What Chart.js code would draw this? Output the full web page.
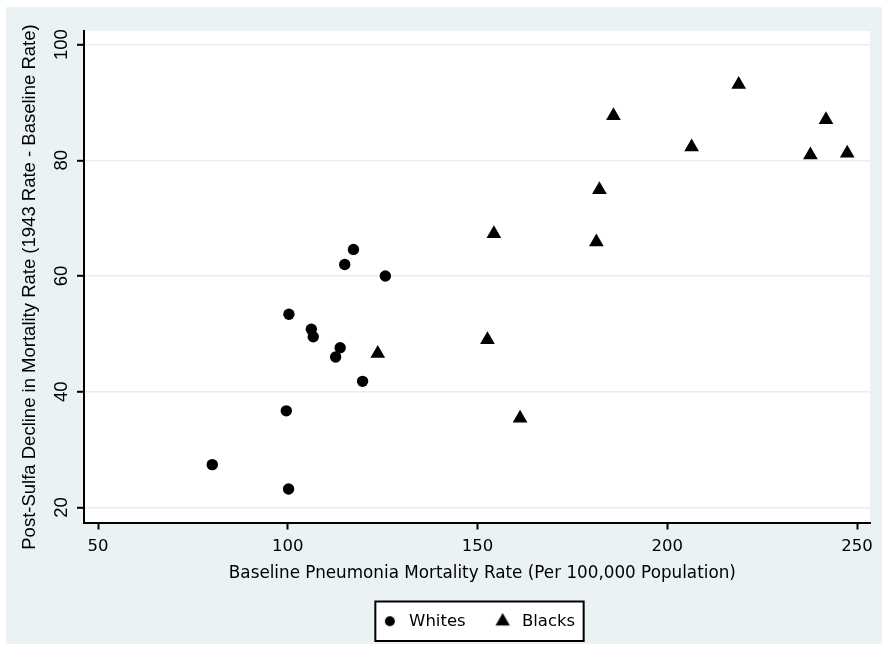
<!DOCTYPE html>
<html>
<head>
<meta charset="utf-8">
<script src="https://cdn.jsdelivr.net/npm/chart.js@4.4.1/dist/chart.umd.min.js"></script>
<style>
  html, body { margin: 0; padding: 0; background: #ffffff; }
  #wrap { width: 882px; height: 645px; }
</style>
</head>
<body>
<div id="wrap"><canvas id="c" width="882" height="645"></canvas></div>
<script>
// ---- data ----
const whitesX = [117.3, 115.0, 125.7, 100.3, 106.2, 106.7, 113.8, 112.6, 119.7, 99.6, 80.1, 100.2];
const whitesY = [64.6, 62.0, 60.0, 53.4, 50.8, 49.5, 47.6, 46.0, 41.8, 36.7, 27.4, 23.2];
const blacksX = [123.7, 152.6, 154.3, 161.2, 181.3, 182.1, 185.8, 206.4, 218.8, 237.7, 241.8, 247.4];
const blacksY = [46.6, 49.0, 67.3, 35.4, 65.9, 74.9, 87.7, 82.3, 93.1, 80.9, 87.0, 81.2];
const xTicks = [50, 100, 150, 200, 250];
const yTicks = [20, 40, 60, 80, 100];
const seriesNames = ['Whites', 'Blacks'];
const xTitle = 'Baseline Pneumonia Mortality Rate (Per 100,000 Population)';
const yTitle = 'Post-Sulfa Decline in Mortality Rate (1943 Rate - Baseline Rate)';

const FONT_X = "'DejaVu Sans', Verdana, sans-serif";
const FONT_Y = "'Liberation Sans', Arial, sans-serif";
const OUTER_BG = 'rgb(234,242,243)';
const GRID = 'rgb(230,239,241)';

// small legend key images drawn with Chart.js's own point helper
function makeIcon(style, radius, size) {
  const cv = document.createElement('canvas');
  cv.width = size; cv.height = size;
  const cx = cv.getContext('2d');
  cx.fillStyle = '#000000';
  cx.strokeStyle = '#000000';
  Chart.helpers.drawPoint(cx, { pointStyle: style, radius: radius, borderWidth: 0, rotation: 0 }, size / 2, size / 2);
  return cv;
}
const legendIcons = [makeIcon('circle', 5, 12), makeIcon('triangle', 8.3, 20)];

const bgPlugin = {
  id: 'stataBg',
  beforeDraw(chart) {
    const ctx = chart.ctx;
    const a = chart.chartArea;
    ctx.save();
    ctx.fillStyle = OUTER_BG;
    ctx.fillRect(6, 7, chart.width - 6, chart.height - 8);
    ctx.fillStyle = '#ffffff';
    ctx.fillRect(a.left, a.top, a.right - a.left, a.bottom - a.top);
    // legend frame, from the legend's own layout
    const lg = chart.legend;
    if (lg && lg.legendHitBoxes && lg.legendHitBoxes.length) {
      const hb = lg.legendHitBoxes;
      const first = hb[0], last = hb[hb.length - 1];
      const x1 = first.left - 3.5;
      const x2 = last.left + last.width + 8.5;
      const y1 = first.top - 11.5;
      const y2 = first.top + first.height + 11.5;
      ctx.fillStyle = '#ffffff';
      ctx.fillRect(x1, y1, x2 - x1, y2 - y1);
      ctx.strokeStyle = '#000000';
      ctx.lineWidth = 2;
      ctx.strokeRect(x1, y1, x2 - x1, y2 - y1);
    }
    ctx.restore();
  }
};

const toPts = (xs, ys) => xs.map((x, i) => ({ x: x, y: ys[i] }));

new Chart(document.getElementById('c'), {
  type: 'scatter',
  data: {
    datasets: [
      {
        label: seriesNames[0],
        data: toPts(whitesX, whitesY),
        pointStyle: 'circle',
        pointRadius: 5.7,
        pointHoverRadius: 5.7,
        backgroundColor: '#000000',
        borderColor: '#000000',
        borderWidth: 0
      },
      {
        label: seriesNames[1],
        data: toPts(blacksX, blacksY),
        pointStyle: 'triangle',
        pointRadius: 8.5,
        pointHoverRadius: 8.5,
        backgroundColor: '#000000',
        borderColor: '#000000',
        borderWidth: 0
      }
    ]
  },
  options: {
    responsive: false,
    animation: false,
    events: [],
    layout: { padding: { top: 31, right: 12, bottom: 5.5, left: 6 } },
    plugins: {
      tooltip: { enabled: false },
      legend: {
        position: 'bottom',
        fullSize: false,
        labels: {
          usePointStyle: true,
          boxHeight: 10,
          pointStyleWidth: 22,
          padding: 26,
          color: '#000000',
          font: { family: FONT_X, size: 16.5 },
          generateLabels(chart) {
            const items = Chart.defaults.plugins.legend.labels.generateLabels(chart);
            items.forEach((it, i) => { it.pointStyle = legendIcons[i]; });
            return items;
          }
        }
      }
    },
    scales: {
      x: {
        type: 'linear',
        position: 'bottom',
        min: 46.3,
        max: 253.4,
        afterBuildTicks(scale) { scale.ticks = xTicks.map(v => ({ value: v })); },
        afterFit(scale) { scale.height = 64.5; },
        ticks: {
          color: '#000000',
          font: { family: FONT_X, size: 16.5 },
          padding: 7.8,
          maxRotation: 0,
          minRotation: 0
        },
        grid: {
          drawOnChartArea: false,
          drawTicks: true,
          tickLength: 7,
          tickWidth: 2,
          tickColor: '#000000'
        },
        border: { display: true, color: '#000000', width: 2 },
        title: {
          display: true,
          text: '  ' + xTitle,
          color: '#000000',
          font: { family: FONT_X, size: 16.8 },
          padding: { top: 0, bottom: 3.3 }
        }
      },
      y: {
        type: 'linear',
        position: 'left',
        min: 17.4,
        max: 102.35,
        afterBuildTicks(scale) { scale.ticks = yTicks.map(v => ({ value: v })); },
        afterFit(scale) { scale.width = 78; },
        ticks: {
          color: '#000000',
          font: { family: FONT_Y, size: 18.5 },
          padding: 0,
          minRotation: 90,
          maxRotation: 90,
          crossAlign: 'center'
        },
        grid: {
          color: GRID,
          lineWidth: 1.6,
          drawTicks: true,
          tickLength: 7,
          tickWidth: 2,
          tickColor: '#000000'
        },
        border: { display: true, color: '#000000', width: 2 },
        title: {
          display: true,
          text: yTitle + '    ',
          color: '#000000',
          font: { family: FONT_Y, size: 18.5 },
          padding: { top: 12.4, bottom: 0 }
        }
      }
    }
  },
  plugins: [bgPlugin]
});
</script>
</body>
</html>
